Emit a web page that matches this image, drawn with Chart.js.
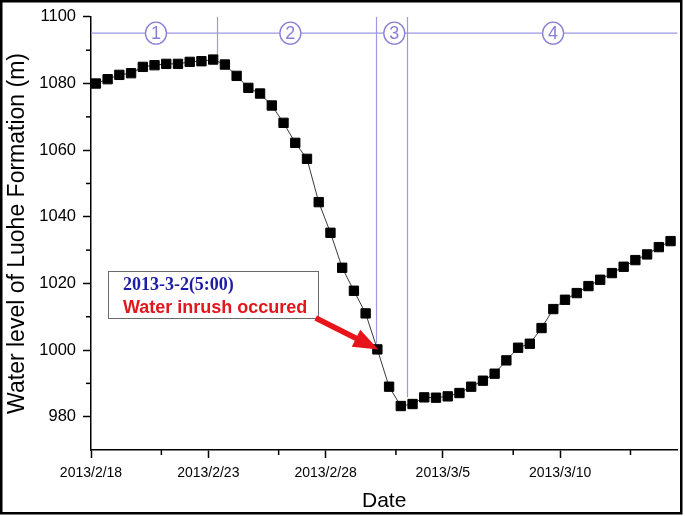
<!DOCTYPE html>
<html>
<head>
<meta charset="utf-8">
<script src="https://cdn.jsdelivr.net/npm/chart.js@4.4.0/dist/chart.umd.min.js"></script>
<style>
  html, body { margin: 0; padding: 0; background: #fff; }
  #wrap { width: 685px; height: 516px; }
</style>
</head>
<body>
<div id="wrap"><canvas id="levelChart" width="685" height="516"></canvas></div>
<script>
// readings were taken twice a day, 5:00 and 17:00
const readTimes = [
    "2013-02-18T05:00", "2013-02-18T17:00", "2013-02-19T05:00", "2013-02-19T17:00",
    "2013-02-20T05:00", "2013-02-20T17:00", "2013-02-21T05:00", "2013-02-21T17:00",
    "2013-02-22T05:00", "2013-02-22T17:00", "2013-02-23T05:00", "2013-02-23T17:00",
    "2013-02-24T05:00", "2013-02-24T17:00", "2013-02-25T05:00", "2013-02-25T17:00",
    "2013-02-26T05:00", "2013-02-26T17:00", "2013-02-27T05:00", "2013-02-27T17:00",
    "2013-02-28T05:00", "2013-02-28T17:00", "2013-03-01T05:00", "2013-03-01T17:00",
    "2013-03-02T05:00", "2013-03-02T17:00", "2013-03-03T05:00", "2013-03-03T17:00",
    "2013-03-04T05:00", "2013-03-04T17:00", "2013-03-05T05:00", "2013-03-05T17:00",
    "2013-03-06T05:00", "2013-03-06T17:00", "2013-03-07T05:00", "2013-03-07T17:00",
    "2013-03-08T05:00", "2013-03-08T17:00", "2013-03-09T05:00", "2013-03-09T17:00",
    "2013-03-10T05:00", "2013-03-10T17:00", "2013-03-11T05:00", "2013-03-11T17:00",
    "2013-03-12T05:00", "2013-03-12T17:00", "2013-03-13T05:00", "2013-03-13T17:00",
    "2013-03-14T05:00", "2013-03-14T17:00"
];
const waterLevel = [
    1080.0, 1081.3, 1082.6, 1083.1, 1085.0, 1085.5, 1085.9, 1085.9, 1086.5, 1086.7,
    1087.2, 1085.7, 1082.3, 1078.7, 1077.0, 1073.4, 1068.2, 1062.2, 1057.4, 1044.4,
    1035.2, 1024.7, 1017.8, 1011.0, 1000.2, 989.0, 983.2, 983.8, 985.8, 985.7,
    986.1, 987.1, 989.0, 990.8, 992.9, 996.9, 1000.7, 1001.9, 1006.6, 1012.3,
    1015.1, 1017.1, 1019.2, 1021.1, 1023.1, 1025.0, 1027.0, 1028.7, 1030.9, 1032.7
];
const dateTicks = [0, 5, 10, 15, 20];      // days after 2013/2/18
const dateLabels = ["2013/2/18", "2013/2/23", "2013/2/28", "2013/3/5", "2013/3/10"];
const dateMinor = [3, 8, 13, 18, 23];
const levelTicks = [980, 1000, 1020, 1040, 1060, 1080, 1100];
const levelMinor = [990, 1010, 1030, 1050, 1070, 1090];
const stageNames = ["1", "2", "3", "4"];
const inrushIndex = 24;   // 2013-3-2 5:00

const t0 = Date.parse("2013-02-18T00:00:00Z");
const points = readTimes.map((s, i) => ({
    x: (Date.parse(s + ":00Z") - t0) / 86400000,
    y: waterLevel[i]
}));

const purple = "#9d98e2";
const purpleDark = "#877fd6";

const decor = {
    id: "decor",
    beforeDraw(chart) {
        const c = chart.ctx;
        c.save();
        c.fillStyle = "#fff";
        c.fillRect(0, 0, chart.width, chart.height);
        c.restore();
    },
    beforeDatasetsDraw(chart) {
        const c = chart.ctx;
        const xs = chart.scales.x, ys = chart.scales.y;
        const area = chart.chartArea;
        c.save();
        c.strokeStyle = purple;
        c.lineWidth = 1.2;
        // stage band line
        const bandY = ys.getPixelForValue(1095.1);
        c.beginPath();
        c.moveTo(area.left, bandY);
        c.lineTo(area.right, bandY);
        c.stroke();
        // stage boundaries: [day, lower end]
        const cuts = [[5.36, 1088.6], [12.15, 1002], [13.46, 985.8]];
        cuts.forEach(([d, v]) => {
            const px = Math.round(xs.getPixelForValue(d)) + 0.5;
            c.beginPath();
            c.moveTo(px, area.top);
            c.lineTo(px, ys.getPixelForValue(v));
            c.stroke();
        });
        // circled stage numbers
        const centers = [2.77, 8.5, 12.93, 19.7];
        c.font = "18px 'Liberation Sans', Arial, sans-serif";
        c.textAlign = "center";
        c.textBaseline = "middle";
        centers.forEach((d, i) => {
            const px = xs.getPixelForValue(d);
            c.beginPath();
            c.ellipse(px, bandY, 10.5, 11, 0, 0, Math.PI * 2);
            c.fillStyle = "#fff";
            c.fill();
            c.strokeStyle = purpleDark;
            c.lineWidth = 1.3;
            c.stroke();
            c.fillStyle = purpleDark;
            c.fillText(stageNames[i], px, bandY + 1);
        });
        c.restore();
    },
    afterDatasetsDraw(chart) {
        const c = chart.ctx;
        const xs = chart.scales.x, ys = chart.scales.y;
        c.save();
        // note box
        const bx0 = xs.getPixelForValue(0.72), bx1 = xs.getPixelForValue(9.66);
        const by0 = ys.getPixelForValue(1023.8), by1 = ys.getPixelForValue(1009.7);
        c.fillStyle = "#fff";
        c.fillRect(bx0, by0, bx1 - bx0, by1 - by0);
        c.strokeStyle = "#6b6b6b";
        c.lineWidth = 1;
        c.strokeRect(Math.round(bx0) + 0.5, Math.round(by0) + 0.5, Math.round(bx1 - bx0), Math.round(by1 - by0));
        c.textAlign = "left";
        c.textBaseline = "alphabetic";
        c.fillStyle = "#1d1ca6";
        c.font = "bold 18px 'Liberation Serif', 'Times New Roman', serif";
        c.fillText("2013-3-2(5:00)", bx0 + 15, by0 + 19);
        c.fillStyle = "#e2161c";
        c.font = "bold 18px 'Liberation Sans', Arial, sans-serif";
        c.fillText("Water inrush occured", bx0 + 15, by0 + 42);
        // arrow to the inrush reading
        const tip = chart.getDatasetMeta(0).data[inrushIndex];
        const tx = tip.x + 1, ty = tip.y;
        const sx = xs.getPixelForValue(9.58), sy = ys.getPixelForValue(1009.6);
        const ang = Math.atan2(ty - sy, tx - sx);
        const headLen = 25, headW = 9.5, shaft = 2.8;
        const bxp = tx - headLen * Math.cos(ang), byp = ty - headLen * Math.sin(ang);
        const nx = -Math.sin(ang), ny = Math.cos(ang);
        c.fillStyle = "#e8141b";
        c.beginPath();
        c.moveTo(sx + nx * shaft, sy + ny * shaft);
        c.lineTo(bxp + nx * shaft, byp + ny * shaft);
        c.lineTo(bxp + nx * headW, byp + ny * headW);
        c.lineTo(tx, ty);
        c.lineTo(bxp - nx * headW, byp - ny * headW);
        c.lineTo(bxp - nx * shaft, byp - ny * shaft);
        c.lineTo(sx - nx * shaft, sy - ny * shaft);
        c.closePath();
        c.fill();
        c.restore();
    },
    afterDraw(chart) {
        const c = chart.ctx;
        const xs = chart.scales.x, ys = chart.scales.y;
        const area = chart.chartArea;
        c.save();
        c.strokeStyle = "#000";
        c.lineWidth = 1.5;
        dateMinor.forEach(d => {
            const px = xs.getPixelForValue(d);
            c.beginPath();
            c.moveTo(px, area.bottom);
            c.lineTo(px, area.bottom + 5);
            c.stroke();
        });
        levelMinor.forEach(v => {
            const py = ys.getPixelForValue(v);
            c.beginPath();
            c.moveTo(area.left, py);
            c.lineTo(area.left - 5, py);
            c.stroke();
        });
        // picture frame
        c.lineWidth = 2.5;
        c.strokeRect(1.25, 1.25, 680, 512);
        c.restore();
    }
};

const ctx = document.getElementById("levelChart");
const levelChart = new Chart(ctx, {
    type: "scatter",
    data: {
        datasets: [{
            label: "Water level",
            data: points,
            showLine: true,
            borderColor: "#3a3a3a",
            borderWidth: 1,
            pointStyle: "rect",
            pointRadius: 6.6,
            pointHoverRadius: 6.6,
            pointBackgroundColor: "#000",
            pointBorderColor: "#000",
            pointBorderWidth: 1,
            tension: 0,
        }, ],
    },
    options: {
        responsive: false,
        animation: false,
        events: [],
        layout: {
            padding: { top: 15, right: 4, left: 0, bottom: 0 },
        },
        plugins: {
            legend: { display: false },
            tooltip: { enabled: false },
        },
        scales: {
            x: {
                type: "linear",
                min: 0,
                max: 25,
                afterBuildTicks: (scale) => {
                    scale.ticks = dateTicks.map(v => ({ value: v }));
                },
                afterFit: (scale) => {
                    scale.height = 66;
                },
                ticks: {
                    autoSkip: false,
                    maxRotation: 0,
                    padding: 7,
                    color: "#000",
                    font: { family: "'Liberation Sans', Arial, sans-serif", size: 14 },
                    callback: (v) => dateLabels[dateTicks.indexOf(v)] || "",
                },
                grid: {
                    drawOnChartArea: false,
                    tickLength: 8,
                    tickColor: "#000",
                    tickWidth: 1.5,
                },
                border: { color: "#000", width: 1.5 },
                title: {
                    display: true,
                    text: "Date",
                    color: "#000",
                    font: { family: "'Liberation Sans', Arial, sans-serif", size: 21 },
                    padding: { top: 0, bottom: 2 },
                },
            },
            y: {
                min: 970,
                max: 1100,
                afterBuildTicks: (scale) => {
                    scale.ticks = levelTicks.map(v => ({ value: v }));
                },
                afterFit: (scale) => {
                    scale.width = 91;
                },
                ticks: {
                    padding: 7,
                    color: "#000",
                    font: { family: "'Liberation Sans', Arial, sans-serif", size: 16.5 },
                    callback: (v) => String(v),
                },
                grid: {
                    drawOnChartArea: false,
                    tickLength: 8,
                    tickColor: "#000",
                    tickWidth: 1.5,
                },
                border: { color: "#000", width: 1.5 },
                title: {
                    display: true,
                    text: "Water level of Luohe Formation (m)",
                    color: "#000",
                    font: { family: "'Liberation Sans', Arial, sans-serif", size: 23 },
                    padding: { top: 4, bottom: 0 },
                },
            },
        },
    },
    plugins: [decor],
});
</script>
</body>
</html>
